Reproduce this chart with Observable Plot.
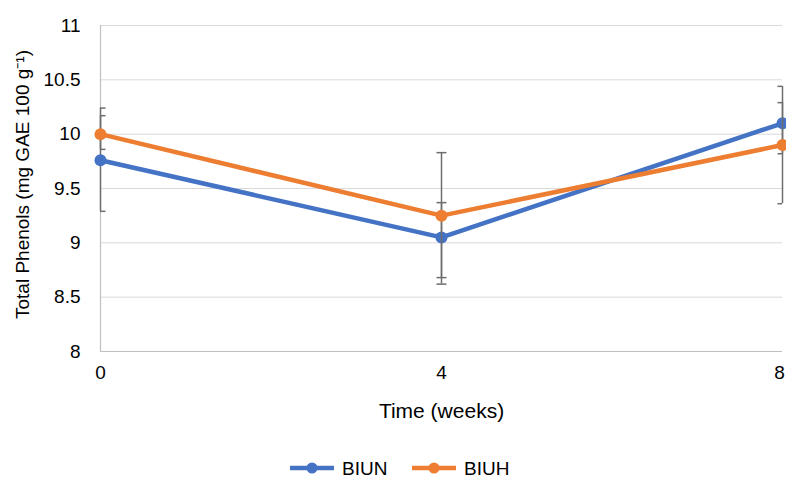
<!DOCTYPE html>
<html>
<head>
<meta charset="utf-8">
<script src="https://cdn.jsdelivr.net/npm/d3@7"></script>
<script src="https://cdn.jsdelivr.net/npm/@observablehq/plot@0.6"></script>
<style>
  html, body { margin: 0; padding: 0; background: #fff; }
  #chart { width: 786px; height: 478px; overflow: hidden; }
  #chart svg { display: block; }
</style>
</head>
<body>
<div id="chart"></div>
<script>
// ---- data ----
const weeks = [0, 4, 8];
const seriesNames = ["BIUN", "BIUH"];
const seriesColors = ["#4472C4", "#ED7D31"];
const biun = [9.76, 9.05, 10.10];
const biuh = [10.00, 9.25, 9.90];
const biunLo = [9.29, 8.62, 9.82];
const biunHi = [10.17, 9.37, 10.29];
const biuhLo = [9.86, 8.68, 9.36];
const biuhHi = [10.24, 9.83, 10.44];
const yTicks = [8, 8.5, 9, 9.5, 10, 10.5, 11];
const xTicks = [0, 4, 8];
const xTitle = "Time (weeks)";
const yTitle = "Total Phenols (mg GAE 100 g\u207B\u00B9)";

const values = [biun, biuh];
const los = [biunLo, biuhLo];
const his = [biunHi, biuhHi];
const data = seriesNames.flatMap((s, k) => weeks.map((w, i) => ({
  series: s, week: w, value: values[k][i], lo: los[k][i], hi: his[k][i]
})));
const caps = data.flatMap(d => [{...d, v: d.lo}, {...d, v: d.hi}]);

const capSymbol = {
  draw(ctx, size) {
    const w = Math.sqrt(size / Math.PI);
    ctx.moveTo(-w, 0);
    ctx.lineTo(w, 0);
  }
};

const font = "'Liberation Sans', Arial, sans-serif";
const lastTick = xTicks[xTicks.length - 1];
const plot = Plot.plot({
  width: 786,
  height: 446,
  marginLeft: 100,
  marginRight: 4,
  marginTop: 25,
  marginBottom: 95,
  style: { fontFamily: font, fontSize: "19px", color: "#000", background: "#fff", overflow: "visible" },
  x: { domain: [0, 8], label: null },
  y: { domain: [8, 11], label: null },
  color: { domain: seriesNames, range: seriesColors },
  marks: [
    Plot.ruleY(yTicks, { stroke: "#d9d9d9", strokeWidth: 1 }),
    Plot.ruleX([0], { stroke: "#bfbfbf", strokeWidth: 1.2 }),
    Plot.ruleY([8], { stroke: "#bfbfbf", strokeWidth: 1.2 }),
    Plot.axisY({ ticks: yTicks, tickSize: 0, tickPadding: 20, tickFormat: d => String(d), label: null }),
    Plot.axisX({ ticks: xTicks.filter(t => t !== lastTick), tickSize: 0, tickPadding: 14, label: null }),
    Plot.axisX({ ticks: [lastTick], tickSize: 0, tickPadding: 14, dx: -3, label: null }),
    ...seriesNames.flatMap(s => [
      Plot.ruleX(data.filter(d => d.series === s), { x: "week", y1: "lo", y2: "hi", stroke: "#6e6e6e", strokeWidth: 1.5 }),
      Plot.dot(caps.filter(d => d.series === s), { x: "week", y: "v", symbol: capSymbol, r: 5, fill: "none", stroke: "#6e6e6e", strokeWidth: 1.5, clip: true }),
      Plot.line(data.filter(d => d.series === s), { x: "week", y: "value", stroke: "series", strokeWidth: 4.5, strokeLinejoin: "round" }),
      Plot.dot(data.filter(d => d.series === s), { x: "week", y: "value", fill: "series", r: 6 })
    ]),
    Plot.text([xTitle], { frameAnchor: "bottom", dy: 66, fontSize: 21, fill: "#000", textAnchor: "middle" }),
    Plot.text([yTitle], { frameAnchor: "left", rotate: -90, dx: -78, dy: -4, fontSize: 19, fill: "#000", textAnchor: "middle" })
  ]
});
document.getElementById("chart").appendChild(plot);

// ---- legend below the plot ----
const legend = d3.select("#chart").append("svg")
  .attr("width", 786).attr("height", 32);
const item = legend.selectAll("g").data(seriesNames).join("g")
  .attr("transform", (d, i) => `translate(${290 + i * 122},22)`);
item.append("line").attr("x1", 0).attr("x2", 44).attr("y1", 0).attr("y2", 0)
  .attr("stroke", (d, i) => seriesColors[i]).attr("stroke-width", 4.5);
item.append("circle").attr("cx", 22).attr("cy", 0).attr("r", 5.5)
  .attr("fill", (d, i) => seriesColors[i]);
item.append("text").attr("x", 52).attr("y", 0).attr("dy", "0.35em")
  .style("font-family", font).style("font-size", "19px").attr("fill", "#000")
  .text(d => d);
</script>
</body>
</html>
